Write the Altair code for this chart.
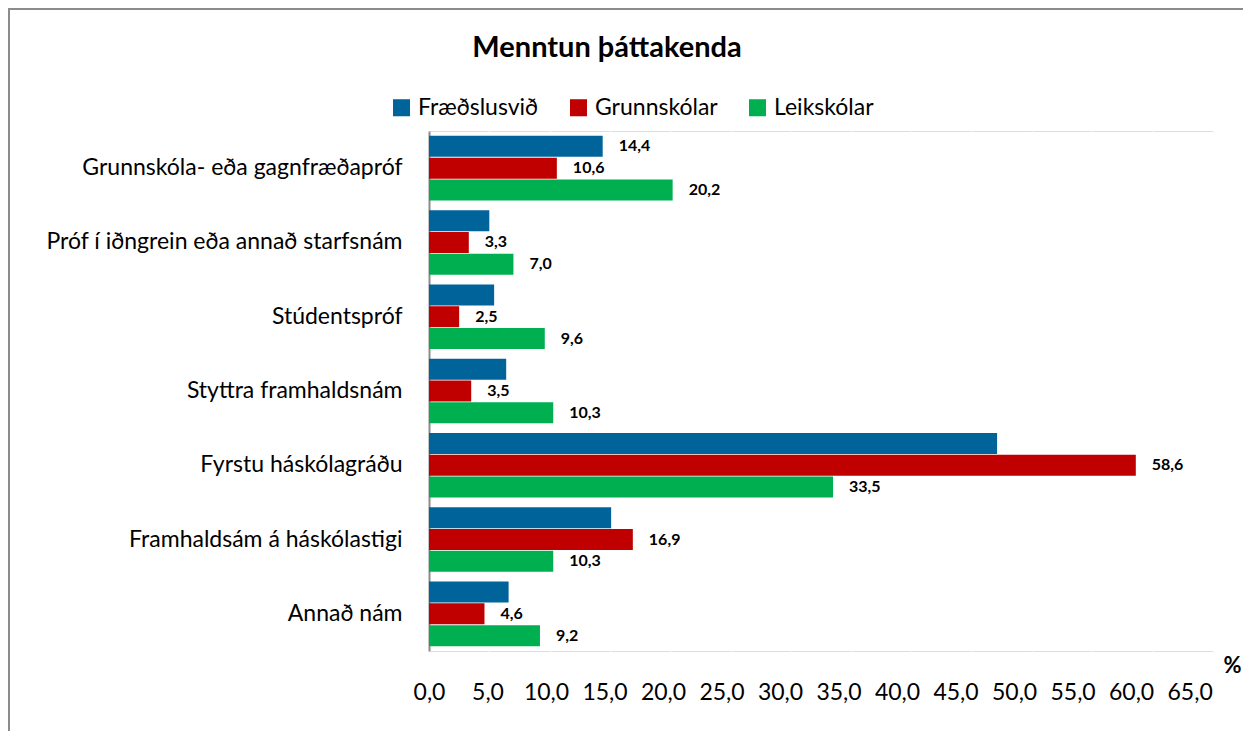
import altair as alt
import pandas as pd

categories = [
    "Grunnskóla- eða gagnfræðapróf",
    "Próf í iðngrein eða annað starfsnám",
    "Stúdentspróf",
    "Styttra framhaldsnám",
    "Fyrstu háskólagráðu",
    "Framhaldsám á háskólastigi",
    "Annað nám",
]
series = ["Fræðslusvið", "Grunnskólar", "Leikskólar"]
fraedslusvid = [14.4, 5.0, 5.4, 6.4, 47.1, 15.1, 6.6]
grunnskolar = [10.6, 3.3, 2.5, 3.5, 58.6, 16.9, 4.6]
leikskolar = [20.2, 7.0, 9.6, 10.3, 33.5, 10.3, 9.2]
# which values carry a visible data label in the original
fraedslusvid_labelled = [True, False, False, False, False, False, False]
colors = ["#00639A", "#C00000", "#00B050"]
x_ticks = [0, 5, 10, 15, 20, 25, 30, 35, 40, 45, 50, 55, 60, 65]
chart_title = "Menntun þáttakenda"

rows = []
for i, c in enumerate(categories):
    rows.append({"cat": c, "ser": series[0], "val": fraedslusvid[i], "show": fraedslusvid_labelled[i]})
    rows.append({"cat": c, "ser": series[1], "val": grunnskolar[i], "show": True})
    rows.append({"cat": c, "ser": series[2], "val": leikskolar[i], "show": True})
df = pd.DataFrame(rows)

FONT = "Lato"
FS = 23

y_enc = alt.Y(
    "cat:N",
    sort=categories,
    scale=alt.Scale(paddingInner=0.12, paddingOuter=0.06),
    axis=alt.Axis(
        title=None,
        labelFontSize=FS,
        labelColor="#000000",
        labelFont=FONT,
        labelPadding=27,
        labelLimit=0,
        ticks=False,
        domain=True,
        domainColor="#8C8C8C",
        domainWidth=2,
        grid=False,
    ),
)
yoff_enc = alt.YOffset("ser:N", sort=series, scale=alt.Scale(paddingInner=0, paddingOuter=0))
x_enc = alt.X(
    "val:Q",
    scale=alt.Scale(domain=[0, 65], nice=False, zero=True),
    axis=alt.Axis(
        values=x_ticks,
        labelExpr="replace(format(datum.value, '.1f'), '.', ',')",
        labelFontSize=FS,
        labelFont=FONT,
        labelColor="#000000",
        labelPadding=41,
        labelBaseline="middle",
        labelFlush=False,
        labelOverlap=False,
        labelOffset={"expr": "-datum.value * 0.36"},
        ticks=False,
        domain=False,
        grid=True,
        gridColor="#FFFFFF",
        gridWidth=2,
        title="%",
        titleFont=FONT,
        titleFontSize=22,
        titleFontWeight="bold",
        titleColor="#000000",
        titleX=803,
        titleY=14,
        titleAlign="center",
        titleBaseline="middle",
        titleAngle=0,
    ),
)

bars = alt.Chart(df).mark_bar(size=21).encode(
    y=y_enc,
    yOffset=yoff_enc,
    x=x_enc,
    color=alt.Color(
        "ser:N",
        sort=series,
        scale=alt.Scale(domain=series, range=colors),
        legend=alt.Legend(
            title=None,
            orient="none",
            legendX=-39,
            legendY=-35,
            direction="horizontal",
            symbolType="square",
            symbolSize=290,
            symbolStrokeWidth=0,
            labelFontSize=FS,
            labelFont=FONT,
            labelColor="#000000",
            labelOffset=5,
            columnPadding=28,
        ),
    ),
)

labels = alt.Chart(df).transform_filter("datum.show").transform_calculate(
    lab="replace(format(datum.val, '.1f'), '.', ',')"
).mark_text(
    align="left", baseline="middle", dx=16, fontSize=16, fontWeight="bold", font=FONT, color="#000000"
).encode(
    y=alt.Y("cat:N", sort=categories),
    yOffset=alt.YOffset("ser:N", sort=series),
    x=alt.X("val:Q"),
    text="lab:N",
)

frame_df = pd.DataFrame({"a": [0]})
title_mark = alt.Chart(frame_df).mark_text(
    align="center", baseline="middle", fontSize=29, fontWeight="bold", font=FONT, color="#000000"
).encode(x=alt.value(178), y=alt.value(-83), text=alt.value(chart_title))

top_line = alt.Chart(frame_df).mark_rule(color="#8C8C8C", strokeWidth=2).encode(
    x=alt.value(-421), x2=alt.value(830), y=alt.value(-122)
)
left_line = alt.Chart(frame_df).mark_rule(color="#8C8C8C", strokeWidth=2).encode(
    x=alt.value(-420), y=alt.value(-123), y2=alt.value(620)
)

chart = alt.layer(bars, labels, title_mark, top_line, left_line).properties(
    width=784,
    height=520,
    autosize=alt.AutoSizeParams(type="none"),
    padding={"left": 421, "top": 123, "right": 30, "bottom": 80},
).configure_view(
    fill="#EEF1F6", stroke=None
).configure(background="#FFFFFF")

chart.save("out.html", embed_options={"renderer": "svg", "actions": False})
